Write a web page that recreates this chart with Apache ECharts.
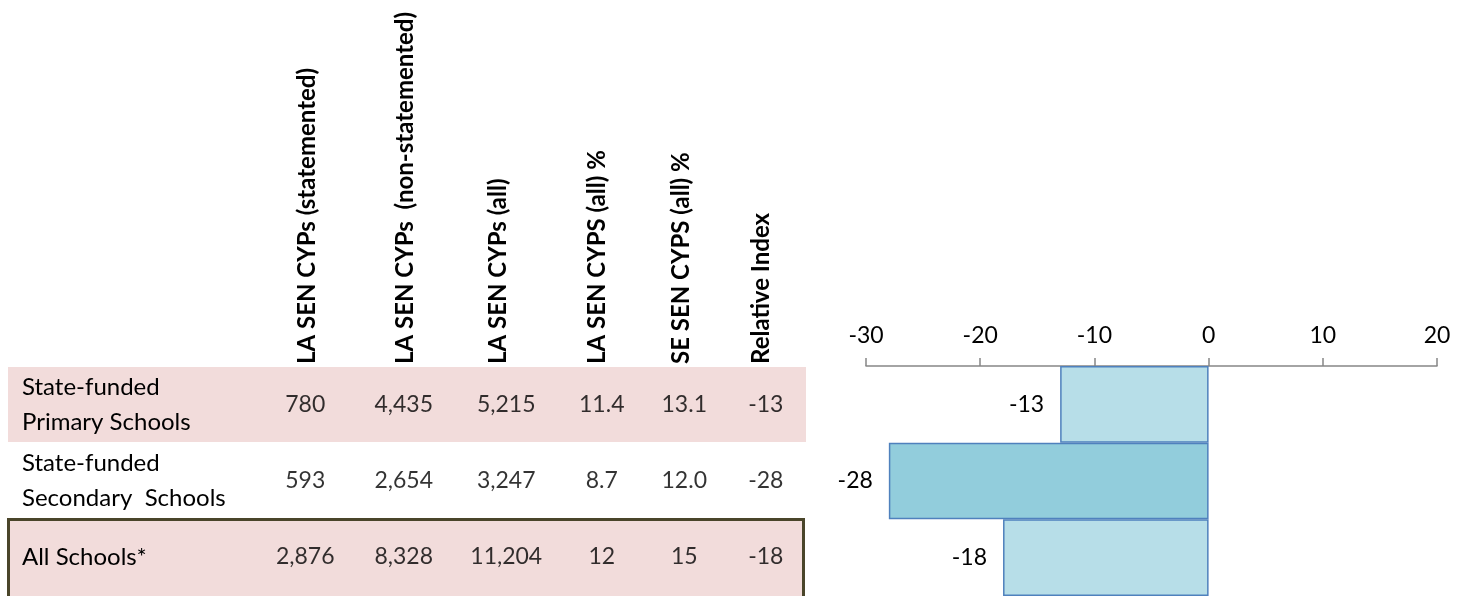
<!DOCTYPE html>
<html><head><meta charset="utf-8">
<script src="https://cdn.jsdelivr.net/npm/echarts@6/dist/echarts.min.js"></script>
<style>html,body{margin:0;padding:0;background:#fff}#c{width:1466px;height:596px}</style>
</head><body><div id="c"></div>
<script>
// ---- data ----
const rowNames = ['State-funded\nPrimary Schools', 'State-funded\nSecondary  Schools', 'All Schools*'];
const colHeaders = ['LA SEN CYPs (statemented)', 'LA SEN CYPs  (non-statemented)', 'LA SEN CYPs (all)', 'LA SEN CYPS (all) %', 'SE SEN CYPS (all) %', 'Relative Index'];
const laStatemented = [780, 593, 2876];
const laNonStatemented = [4435, 2654, 8328];
const laAll = [5215, 3247, 11204];
const laPct = [11.4, 8.7, 12];
const sePct = [13.1, 12.0, 15];
const relativeIndex = [-13, -28, -18];
const pctDecimals = [1, 1, 0];
const axisTicks = [-30, -20, -10, 0, 10, 20];

// ---- styling / layout ----
const FONT = 'Lato';
const TXT = '#000';
const PINK = '#F2DCDB';
const barColors = ['#B7DEE8', '#92CDDC', '#B7DEE8'];
const cellNudge = [-8, -2, 8, 11, 1, -10];
const headerPad = [[0, 0, 12, 0], [0, 0, 0, 0], [0, 0, 0, 0], [14, 0, 0, 0], [0, 0, 4, 0], [0, 0, 28, 0]];

function thousands(n) { return String(n).replace(/\B(?=(\d{3})+(?!\d))/g, ','); }
const columns = [
  laStatemented.map(thousands),
  laNonStatemented.map(thousands),
  laAll.map(thousands),
  laPct.map((v, i) => v.toFixed(pctDecimals[i])),
  sePct.map((v, i) => v.toFixed(pctDecimals[i])),
  relativeIndex.map(String)
];
const cells = [];
columns.forEach((col, c) => col.forEach((txt, r) => {
  cells.push({ value: [c, r, txt], label: { offset: [cellNudge[c], 0] } });
}));
const headerRich = {};
headerPad.forEach((p, i) => {
  headerRich['h' + i] = { padding: p, fontFamily: FONT, fontSize: 24, fontWeight: 'bold', color: TXT };
});

const chart = echarts.init(document.getElementById('c'), null, { renderer: 'canvas' });
chart.setOption({
  animation: false,
  graphic: [
    { type: 'rect', z: -10, shape: { x: 8, y: 367, width: 798, height: 75 }, style: { fill: PINK } },
    { type: 'rect', z: -10, shape: { x: 8.5, y: 519.5, width: 795, height: 90 }, style: { fill: PINK, stroke: '#4A452A', lineWidth: 3 } }
  ],
  grid: [
    { left: 866, right: 29, top: 366, bottom: -2 },
    { left: 267, right: 644, top: 367, bottom: 1 }
  ],
  xAxis: [
    {
      gridIndex: 0, type: 'value', position: 'top',
      min: axisTicks[0], max: axisTicks[axisTicks.length - 1], interval: axisTicks[1] - axisTicks[0],
      axisLine: { show: true, lineStyle: { color: '#868686', width: 1.5 } },
      axisTick: { show: true, length: 8, lineStyle: { color: '#868686', width: 1.5 } },
      splitLine: { show: false },
      axisLabel: { fontFamily: FONT, fontSize: 23, color: TXT, margin: 19 }
    },
    {
      gridIndex: 1, type: 'category', position: 'top',
      data: colHeaders,
      axisLine: { show: false }, axisTick: { show: false }, splitLine: { show: false },
      axisLabel: {
        rotate: -90, interval: 0, margin: 3, fontFamily: FONT, fontSize: 24, fontWeight: 'bold', color: TXT,
        formatter: (v, i) => '{h' + i + '|' + v + '}', rich: headerRich
      }
    }
  ],
  yAxis: [
    { gridIndex: 0, type: 'category', inverse: true, data: rowNames, show: false },
    {
      gridIndex: 1, type: 'category', inverse: true, data: rowNames,
      axisLine: { show: false }, axisTick: { show: false }, splitLine: { show: false },
      axisLabel: { align: 'left', margin: 245, fontFamily: FONT, fontSize: 24, lineHeight: 35, color: TXT }
    }
  ],
  series: [
    {
      type: 'bar', xAxisIndex: 0, yAxisIndex: 0,
      data: relativeIndex,
      barWidth: '100%', barCategoryGap: 0,
      itemStyle: { color: p => barColors[p.dataIndex], borderColor: '#4F81BD', borderWidth: 1.5 },
      label: { show: true, position: 'left', distance: 16, fontFamily: FONT, fontSize: 23, color: TXT }
    },
    {
      type: 'scatter', xAxisIndex: 1, yAxisIndex: 1,
      data: cells, symbol: 'circle', symbolSize: 1, itemStyle: { color: 'rgba(0,0,0,0)' },
      label: { show: true, position: 'inside', formatter: p => p.value[2], fontFamily: FONT, fontSize: 23, color: TXT }
    }
  ]
});
</script>
</body></html>
